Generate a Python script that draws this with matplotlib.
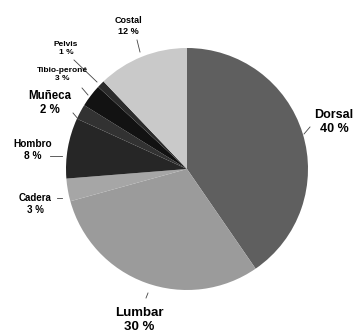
import matplotlib.pyplot as plt

# Distribución de fracturas por localización
zonas = ['Dorsal', 'Lumbar', 'Cadera', 'Hombro', 'Muñeca', 'Tibio-peroné', 'Pelvis', 'Costal']
porcentajes = [40, 30, 3, 8, 2, 3, 1, 12]
colores = ['#5f5f5f', '#9b9b9b', '#a6a6a6', '#262626', '#323232', '#121212', '#2b2b2b', '#c9c9c9']

# posición de cada etiqueta (px desde arriba) y su línea guía
etiquetas_pos = [(334, 122), (139, 320), (35, 204), (33, 150), (50, 103), (62, 75), (66, 48), (128, 26)]
guias = [((304, 134), (310, 127)), ((148, 293), (146, 298)), ((62, 198), (57, 198)),
         ((62, 156), (50, 156)), ((79, 120), (73, 113)), ((88, 95), (82, 88)),
         ((97, 82), (74, 60)), ((140, 52), (137, 40))]
tamanos = [9, 9.5, 7, 7.3, 8.3, 6, 6, 6.5]

H = 336
plt.rcParams['font.family'] = ['Liberation Sans', 'DejaVu Sans']
fig = plt.figure(figsize=(3.55, 3.36), dpi=100)
ax = fig.add_axes([0, 0, 1, 1])

ax.pie(porcentajes, colors=colores, startangle=90, counterclock=False,
       center=(187, H - 169), radius=121, frame=True)
ax.set_xlim(0, 355)
ax.set_ylim(0, H)
ax.set_aspect('equal')
ax.axis('off')

for zona, p, (x, y), ((x1, y1), (x2, y2)), t in zip(zonas, porcentajes, etiquetas_pos, guias, tamanos):
    ax.plot([x1, x2], [H - y1, H - y2], color='#444444', lw=0.6)
    ax.text(x, H - y, f'{zona}\n{p} %', ha='center', va='center', fontsize=t,
            fontweight='bold', linespacing=1.2)

fig.savefig('out.png', dpi=100)
